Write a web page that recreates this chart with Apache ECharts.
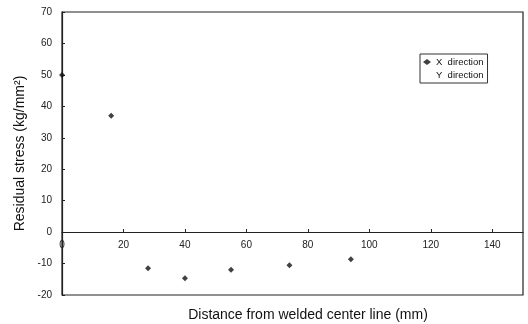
<!DOCTYPE html>
<html><head><meta charset="utf-8">
<script src="https://cdn.jsdelivr.net/npm/echarts@6/dist/echarts.min.js"></script>
<style>html,body{margin:0;padding:0;background:#fff}#c{width:528px;height:324px}</style>
</head><body><div id="c"></div>
<script>
var xDirDistance = [0, 16, 28, 40, 55, 74, 94];
var xDirStress = [50, 37, -11.5, -14.7, -12, -10.5, -8.6];
var yDirDistance = [];
var yDirStress = [];
var xTicks = [0, 20, 40, 60, 80, 100, 120, 140];
var yTicks = [-20, -10, 0, 10, 20, 30, 40, 50, 60, 70];

function pairs(xs, ys){ return xs.map(function(x,i){ return [x, ys[i]]; }); }

var font = 'Liberation Sans, Arial, sans-serif';
var chart = echarts.init(document.getElementById('c'));
chart.setOption({
  animation: false,
  backgroundColor: '#fff',
  textStyle: {fontFamily: font, color: '#111'},
  title: {
    text: 'Distance from welded center line (mm)',
    left: 303, top: 303, textAlign: 'center',
    textStyle: {fontFamily: font, fontSize: 14, fontWeight: 'normal', color: '#111'}
  },
  grid: {left: 62, right: 5, top: 12, bottom: 29, show: true, borderColor: '#222', borderWidth: 1.2, backgroundColor: 'transparent'},
  legend: {
    orient: 'vertical', left: 420, top: 54,
    borderColor: '#333', borderWidth: 1, padding: [3, 4, 3, 3],
    itemWidth: 8, itemHeight: 6, itemGap: 3,
    textStyle: {fontFamily: font, fontSize: 9.5, color: '#111'},
    data: [
      {name: 'X  direction', icon: 'diamond'},
      {name: 'Y  direction', icon: 'none'}
    ]
  },
  xAxis: {
    type: 'value', min: 0, max: 150, interval: 20,
    position: 'bottom', offset: -63,
    axisLine: {onZero: false, lineStyle: {color: '#222', width: 1.2}},
    axisTick: {show: true, inside: true, length: 3, lineStyle: {color: '#222'}},
    axisLabel: {
      fontFamily: font, fontSize: 10, color: '#222', margin: 8, showMaxLabel: false,
      formatter: function(v){ return xTicks.indexOf(v) >= 0 ? String(v) : ''; }
    },
    splitLine: {show: false}
  },
  yAxis: {
    type: 'value', min: -20, max: 70, interval: 10,
    name: 'Residual stress (kg/mm²)', nameLocation: 'middle', nameGap: 34,
    nameTextStyle: {fontFamily: font, fontSize: 14, color: '#111'},
    axisLine: {show: true, lineStyle: {color: '#222', width: 1.2}},
    axisTick: {show: true, inside: true, length: 3, lineStyle: {color: '#222'}},
    axisLabel: {
      fontFamily: font, fontSize: 10, color: '#222', margin: 10,
      formatter: function(v){ return yTicks.indexOf(v) >= 0 ? String(v) : ''; }
    },
    splitLine: {show: false}
  },
  series: [
    {name: 'X  direction', type: 'scatter', symbol: 'diamond', symbolSize: 6,
     itemStyle: {color: '#111'}, data: pairs(xDirDistance, xDirStress)},
    {name: 'Y  direction', type: 'scatter', symbol: 'circle', symbolSize: 4,
     itemStyle: {color: '#111'}, data: pairs(yDirDistance, yDirStress)}
  ]
});
</script></body></html>
